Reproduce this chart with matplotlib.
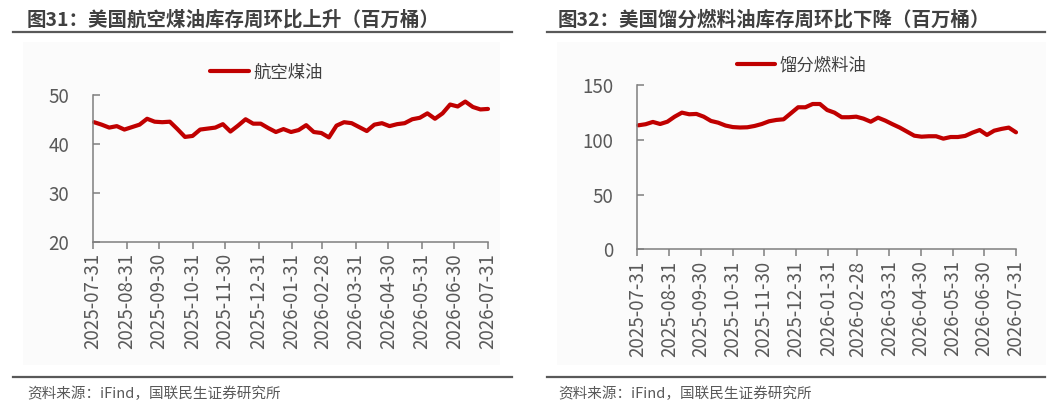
import matplotlib
matplotlib.use("Agg")
import matplotlib.pyplot as plt
import matplotlib.dates as mdates
from matplotlib.lines import Line2D
from matplotlib.patches import Rectangle
import pandas as pd

plt.rcParams['font.family'] = ['Noto Sans CJK SC', 'DejaVu Sans']

# ---------------- data ----------------
dates = pd.date_range('2025-08-01', periods=53, freq='7D')
tick_dates = pd.date_range('2025-07-31', '2026-07-31', freq='ME')

jet_fuel = [44.4, 43.9, 43.3, 43.6, 42.9, 43.4, 43.9, 45.1, 44.5, 44.4,
            44.5, 43.0, 41.4, 41.6, 42.9, 43.1, 43.3, 44.0, 42.5, 43.7,
            45.0, 44.1, 44.1, 43.2, 42.4, 43.0, 42.4, 42.8, 43.8, 42.4,
            42.2, 41.3, 43.7, 44.4, 44.2, 43.4, 42.6, 43.9, 44.2, 43.6,
            44.0, 44.2, 45.0, 45.3, 46.2, 45.1, 46.2, 48.0, 47.6, 48.6,
            47.5, 47.0, 47.1]

distillate = [113.4, 114.4, 116.5, 114.6, 116.7, 121.3, 125.0, 123.5, 123.8, 121.3,
              117.4, 115.8, 113.2, 111.8, 111.4, 111.6, 112.8, 114.6, 117.1, 118.3,
              118.9, 124.4, 129.9, 129.9, 132.9, 132.9, 127.4, 125.0, 120.8, 120.8,
              121.3, 119.5, 116.7, 120.4, 117.7, 114.4, 111.3, 107.6, 103.9, 103.0,
              103.4, 103.4, 101.2, 102.7, 102.7, 103.7, 106.7, 109.1, 104.6, 108.5,
              110.1, 111.3, 107.0]

titles = ['图31：美国航空煤油库存周环比上升（百万桶）',
          '图32：美国馏分燃料油库存周环比下降（百万桶）']
series_names = ['航空煤油', '馏分燃料油']
source = '资料来源：iFind，国联民生证券研究所'
left_yticks = [20, 30, 40, 50]
right_yticks = [0, 50, 100, 150]

# ---------------- figure ----------------
W, H = 1059, 407
fig = plt.figure(figsize=(W / 100, H / 100), dpi=100)
fig.patch.set_facecolor('white')

def fx(px):
    return px / W

def fy(py):
    return 1 - py / H

RED = '#C00000'
GRAY_TXT = '#595959'
AX_GRAY = '#7F7F7F'

# faint chart backgrounds
for x0, x1 in [(23, 500), (557, 1046)]:
    fig.add_artist(Rectangle((fx(x0), fy(365)), fx(x1) - fx(x0), fy(42) - fy(365),
                             transform=fig.transFigure, facecolor='#FBFBFB',
                             edgecolor='none', zorder=0))

# title, rules, source
for tx, lx0, lx1, title in [(27, 13.3, 511.7, titles[0]), (558, 546.7, 1045, titles[1])]:
    fig.text(fx(tx), fy(20), title, fontsize=14, fontweight='bold',
             color='#404040', va='center', ha='left')
    for ly in (31.7, 376.7):
        fig.add_artist(Line2D([fx(lx0), fx(lx1)], [fy(ly), fy(ly)],
                              transform=fig.transFigure, color=GRAY_TXT, lw=1.6))
    fig.text(fx(tx), fy(394), source, fontsize=10.5, color=GRAY_TXT,
             va='center', ha='left')

def style_axes(ax, yticks, ylim):
    ax.set_facecolor('none')
    ax.set_xlim(pd.Timestamp('2025-07-31'), pd.Timestamp('2026-07-31'))
    ax.set_ylim(*ylim)
    ax.set_yticks(yticks)
    ax.set_xticks(tick_dates)
    ax.xaxis.set_major_formatter(mdates.DateFormatter('%Y-%m-%d'))
    for s in ('top', 'right'):
        ax.spines[s].set_visible(False)
    for s in ('left', 'bottom'):
        ax.spines[s].set_color(AX_GRAY)
        ax.spines[s].set_linewidth(1.1)
    ax.tick_params(axis='y', direction='in', length=5, width=1.1, color=AX_GRAY,
                   labelsize=13.5, labelcolor=GRAY_TXT, pad=17)
    ax.tick_params(axis='x', direction='out', length=5, width=1.1, color=AX_GRAY,
                   labelsize=13.5, labelcolor=GRAY_TXT, labelrotation=90, pad=3)
    ax.grid(False)

# left chart
ax1 = fig.add_axes([fx(93), fy(242), fx(488) - fx(93), fy(94.7) - fy(242)])
ax1.plot(dates, jet_fuel, color=RED, lw=3, solid_capstyle='round',
         solid_joinstyle='round', label=series_names[0], clip_on=False)
style_axes(ax1, left_yticks, (20, 50))
ax1.legend(loc='center', bbox_to_anchor=(fx(266.5), fy(72.3)),
           bbox_transform=fig.transFigure, frameon=False, fontsize=12.5,
           handlelength=2.2, handletextpad=0.25, borderpad=0, labelcolor='#404040')

# right chart
ax2 = fig.add_axes([fx(637.3), fy(249.3), fx(1016) - fx(637.3), fy(85.3) - fy(249.3)])
ax2.plot(dates, distillate, color=RED, lw=3, solid_capstyle='round',
         solid_joinstyle='round', label=series_names[1], clip_on=False)
style_axes(ax2, right_yticks, (0, 150))
ax2.legend(loc='center', bbox_to_anchor=(fx(802), fy(65)),
           bbox_transform=fig.transFigure, frameon=False, fontsize=12.5,
           handlelength=2.2, handletextpad=0.25, borderpad=0, labelcolor='#404040')

fig.savefig('out.png', dpi=100, facecolor='white')
